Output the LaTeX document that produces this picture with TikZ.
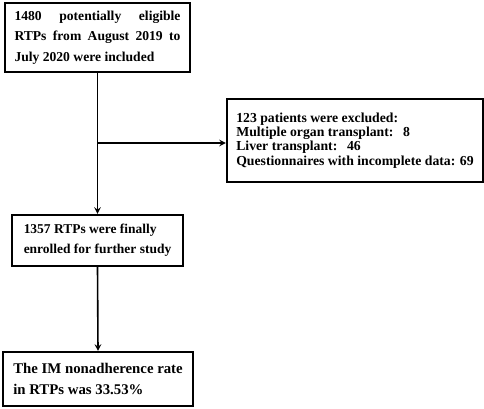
\documentclass[tikz,border=0pt]{standalone}
\usepackage{fontspec}
\setmainfont{Liberation Serif}
\usetikzlibrary{arrows,positioning}

\begin{document}
\begin{tikzpicture}[x=0.75pt,y=-0.75pt,>=stealth,
    flowbox/.style={draw,line width=1.6pt,inner xsep=7pt,inner ysep=0pt},
    link/.style={line width=1.2pt}]
    \useasboundingbox (0,0) rectangle (484,408);
    % --- boxes ---
    \node[flowbox,text width=124.5pt,align=justify,minimum height=51.75pt,
      font=\bfseries\fontsize{10.2}{15.2}\selectfont] (incl) at (97.5,37.5)
      {1480 potentially eligible RTPs from August 2019 to July 2020 were included};
    \node[flowbox,align=left,minimum width=192pt,minimum height=62.25pt,
      font=\bfseries\fontsize{10.3}{10.6}\selectfont] (excl) at (355,140.5)
      {123 patients were excluded:\\
       Multiple organ transplant:\hspace{0.7em}8\\
       Liver transplant:\hspace{0.7em}46\\
       Questionnaires with incomplete data: 69};
    \node[flowbox,align=left,minimum width=128.25pt,minimum height=38.25pt,
      font=\bfseries\fontsize{10.1}{15}\selectfont] (enrol) at (97.5,240.5)
      {1357 RTPs were finally\\ enrolled for further study};
    \node[flowbox,align=left,minimum width=142.5pt,minimum height=40.5pt,
      font=\bfseries\fontsize{11.1}{16.2}\selectfont] (rate) at (98,379)
      {The IM nonadherence rate\\ in RTPs was 33.53\%};
    % --- connectors ---
    \coordinate (split) at (97.5,143);
    \draw[link,->] (incl.south) -- (enrol.north);
    \draw[link,->] (split) -- (split -| excl.west);
    \draw[link,->] (enrol.south) -- (rate.north);
\end{tikzpicture}
\end{document}
